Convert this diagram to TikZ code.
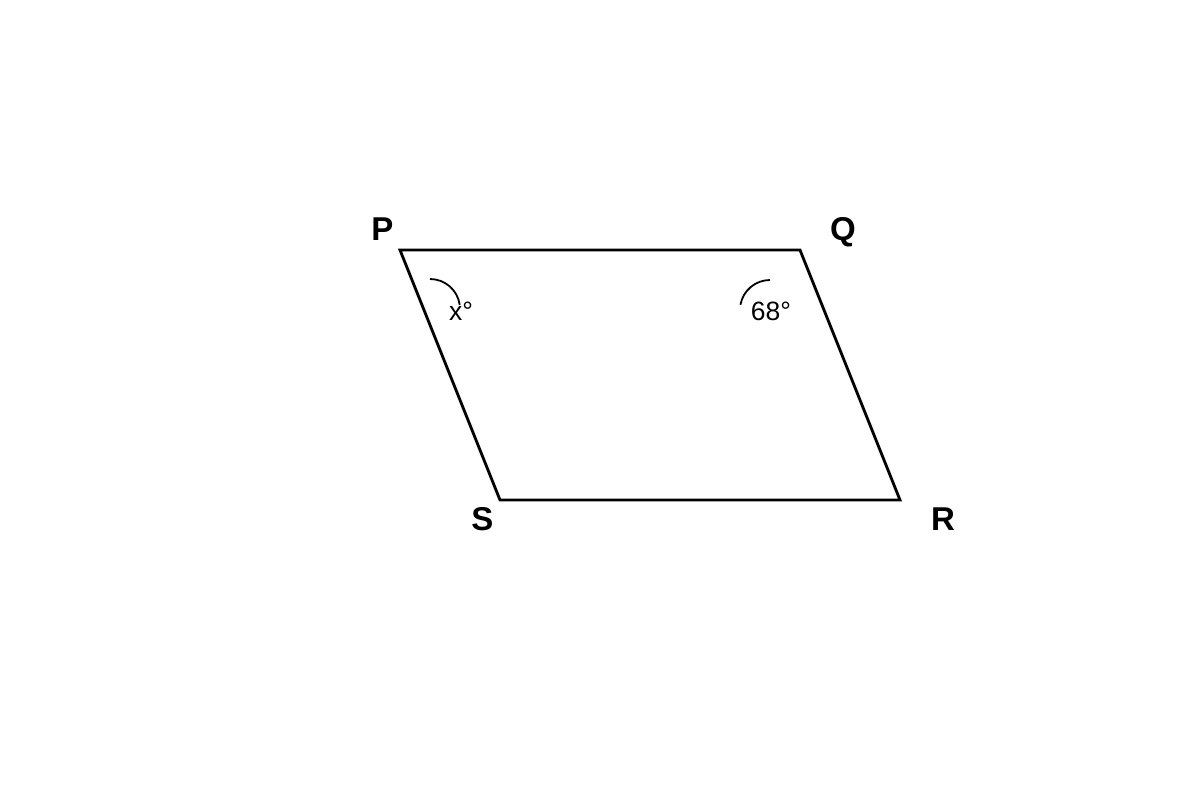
\documentclass[tikz,border=0pt]{standalone}
\usepackage{fontspec}
\setmainfont{Liberation Sans}
\begin{document}
\begin{tikzpicture}[x=1pt,y=-1pt,
  vlabel/.style={font=\fontsize{33}{36}\selectfont\bfseries, inner sep=0pt, anchor=base},
  alabel/.style={font=\fontsize{26.5}{30}\selectfont, inner sep=0pt},
  edge/.style={line width=2.8pt, line join=miter},
  arcline/.style={line width=1.8pt}]
\useasboundingbox (0,0) rectangle (1200,800);
\coordinate (P) at (400,250);
\coordinate (Q) at (800,250);
\coordinate (R) at (900,500);
\coordinate (S) at (500,500);
\draw[edge] (P) -- (Q) -- (R) -- (S) -- cycle;
\node[vlabel] (lP) at (382.5,240) {P};
\node[vlabel] (lQ) at (843,240) {Q};
\node[vlabel] (lS) at (482.5,530) {S};
\node[vlabel] (lR) at (943,530) {R};
\draw[arcline] (430,279) arc[start angle=-90, end angle=-8, radius=30];
\draw[arcline] (770,280) arc[start angle=-90, end angle=-170, radius=30];
\node[alabel] (xa) at (461,311) {x°};
\node[alabel] (ya) at (771,311) {68°};
\end{tikzpicture}
\end{document}
